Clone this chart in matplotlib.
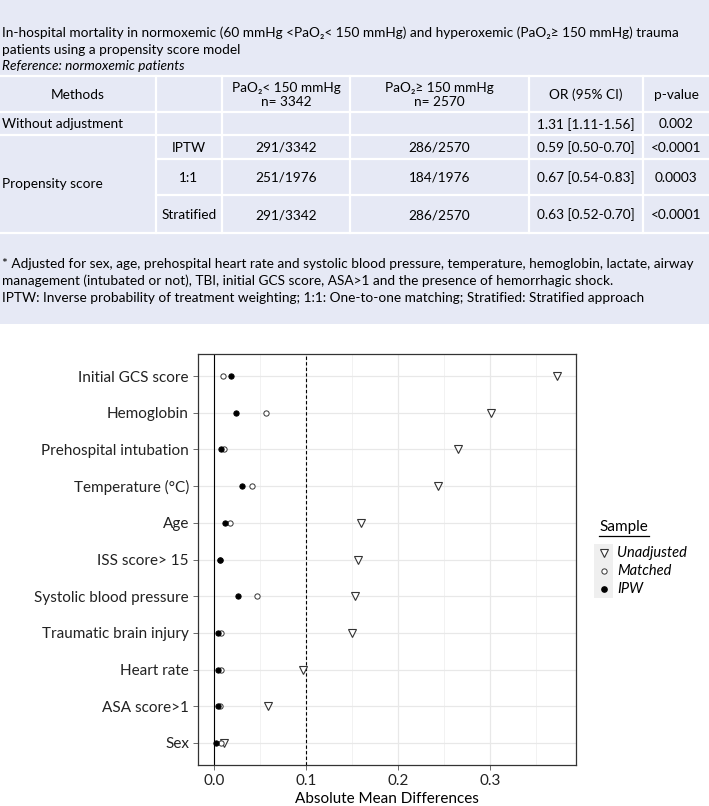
import numpy as np
import matplotlib
matplotlib.use("Agg")
import matplotlib.pyplot as plt
from matplotlib.patches import Rectangle
from matplotlib.lines import Line2D

plt.rcParams['font.family'] = ['Lato', 'DejaVu Sans']

W, H = 709, 806

# ---- table data
title_lines = ["In-hospital mortality in normoxemic (60 mmHg <PaO\u2082< 150 mmHg) and hyperoxemic (PaO\u2082\u2265 150 mmHg) trauma",
               "patients using a propensity score model"]
reference_line = "Reference: normoxemic patients"
col_headers = ["Methods", "", "PaO\u2082< 150 mmHg\nn= 3342", "PaO\u2082\u2265 150 mmHg\nn= 2570", "OR (95% CI)", "p-value"]
row_methods = ["Without adjustment", "IPTW", "1:1", "Stratified"]
row_low = ["", "291/3342", "251/1976", "291/3342"]
row_high = ["", "286/2570", "184/1976", "286/2570"]
row_or = ["1.31 [1.11-1.56]", "0.59 [0.50-0.70]", "0.67 [0.54-0.83]", "0.63 [0.52-0.70]"]
row_p = ["0.002", "<0.0001", "0.0003", "<0.0001"]
footnotes = ["* Adjusted for sex, age, prehospital heart rate and systolic blood pressure, temperature, hemoglobin, lactate, airway",
             "management (intubated or not), TBI, initial GCS score, ASA>1 and the presence of hemorrhagic shock.",
             "IPTW: Inverse probability of treatment weighting; 1:1: One-to-one matching; Stratified: Stratified approach"]

# ---- balance plot data
variables = ['Initial GCS score', 'Hemoglobin', 'Prehospital intubation', 'Temperature (\u00b0C)', 'Age',
             'ISS score> 15', 'Systolic blood pressure', 'Traumatic brain injury', 'Heart rate',
             'ASA score>1', 'Sex']
unadjusted = [0.373, 0.301, 0.265, 0.243, 0.160, 0.157, 0.153, 0.150, 0.097, 0.0585, 0.0107]
matched = [0.010, 0.0566, 0.0107, 0.0415, 0.017, 0.006, 0.047, 0.0073, 0.0073, 0.0063, 0.008]
ipw = [0.019, 0.0244, 0.0078, 0.030, 0.0117, 0.0068, 0.026, 0.004, 0.004, 0.0044, 0.0024]
legend_labels = ['Unadjusted', 'Matched', 'IPW']

fig = plt.figure(figsize=(W / 100, H / 100), dpi=100)

# ================= table block
tab_h = 324
axt = fig.add_axes([0, 1 - tab_h / H, 1, tab_h / H])
axt.set_xlim(0, W)
axt.set_ylim(tab_h, 0)
axt.axis('off')
axt.add_patch(Rectangle((0, 0), W, tab_h, color='#E6E9F5', zorder=0))

fs = 9.8
for i, t in enumerate(title_lines):
    axt.text(2, 33 + i * 16.5, t, fontsize=fs, va='center', ha='left')
axt.text(2, 66, reference_line, fontsize=fs, va='center', ha='left', style='italic')

cols = [0, 156, 222, 350, 529, 643, 709]
rows = [76, 112, 135, 159, 195, 233]
lc = 'white'
lw = 1.6
# horizontal lines
for y in [rows[0], rows[1], rows[2], rows[5]]:
    axt.plot([0, W], [y, y], color=lc, lw=lw)
for y in [rows[3], rows[4]]:
    axt.plot([cols[1], W], [y, y], color=lc, lw=lw)
for x in cols[1:-1]:
    axt.plot([x, x], [rows[0], rows[5]], color=lc, lw=lw)

def cx(i):
    return (cols[i] + cols[i + 1]) / 2

def cy(j):
    return (rows[j] + rows[j + 1]) / 2

for i, h in enumerate(col_headers):
    if h:
        axt.text(cx(i), cy(0) + 1, h, fontsize=fs, ha='center', va='center', linespacing=1.3)

axt.text(2, cy(1) + 1, row_methods[0], fontsize=fs, ha='left', va='center')
axt.text(2, (rows[2] + rows[5]) / 2, "Propensity score", fontsize=fs, ha='left', va='center')
for k in range(4):
    yk = cy(k + 1) + 1
    if k > 0:
        axt.text(cx(1), yk, row_methods[k], fontsize=fs, ha='center', va='center')
    axt.text(cx(2), yk, row_low[k], fontsize=fs, ha='center', va='center')
    axt.text(cx(3), yk, row_high[k], fontsize=fs, ha='center', va='center')
    axt.text(cx(4), yk, row_or[k], fontsize=fs, ha='center', va='center')
    axt.text(cx(5), yk, row_p[k], fontsize=fs, ha='center', va='center')

for i, t in enumerate(footnotes):
    axt.text(2, 264 + i * 17, t, fontsize=fs, va='center', ha='left')

# ================= balance plot
L, R, T, B = 198, 576, 354, 765
ax = fig.add_axes([L / W, 1 - B / H, (R - L) / W, (B - T) / H])
n = len(variables)
ypos = np.arange(n, 0, -1)

ax.set_xlim(-0.0174, 0.3935)
ax.set_ylim(0.4, n + 0.6)
ax.set_xticks([0.0, 0.1, 0.2, 0.3])
ax.set_xticklabels(['0.0', '0.1', '0.2', '0.3'])
ax.set_xticks(np.arange(0.05, 0.4, 0.1), minor=True)
ax.set_yticks(ypos)
ax.set_yticklabels(variables)
ax.grid(True, which='major', color='#E8E8E8', lw=0.9)
ax.grid(True, which='minor', axis='x', color='#F0F0F0', lw=0.6)
ax.set_axisbelow(True)
ax.tick_params(axis='both', which='major', length=3.5, color='#555555', width=0.6,
               labelsize=11, labelcolor='#222222', pad=3)
ax.tick_params(axis='x', which='minor', length=0)
for s in ax.spines.values():
    s.set_color('#333333')
    s.set_linewidth(0.9)

ax.axvline(0, color='black', lw=0.8, zorder=1)
ax.axvline(0.1, color='black', lw=0.8, ls=(0, (3, 2)), zorder=1)

ax.plot(unadjusted, ypos, ls='none', marker='v', ms=6.3, mfc='white', mec='#333333', mew=0.8, zorder=3)
ax.plot(matched, ypos, ls='none', marker='o', ms=3.8, mfc='white', mec='#333333', mew=0.7, zorder=4)
ax.plot(ipw, ypos, ls='none', marker='o', ms=3.8, mfc='black', mec='black', mew=0.7, zorder=5)

ax.set_xlabel('Absolute Mean Differences', fontsize=11, labelpad=3)

# ================= legend
fig.text(599 / W, 1 - 527 / H, 'Sample', fontsize=11, ha='left', va='center')
fig.add_artist(Line2D([599 / W, 649 / W], [1 - 536 / H, 1 - 536 / H], color='black', lw=0.9))
axl = fig.add_axes([594 / W, 1 - 598 / H, 19 / W, 54 / H])
axl.set_xlim(0, 1)
axl.set_ylim(0, 3)
axl.set_facecolor('#EFEFEF')
for s in axl.spines.values():
    s.set_visible(False)
axl.set_xticks([])
axl.set_yticks([])
axl.plot([0.5], [2.5], marker='v', ms=6.3, mfc='white', mec='#333333', mew=0.8)
axl.plot([0.5], [1.5], marker='o', ms=3.8, mfc='white', mec='#333333', mew=0.7)
axl.plot([0.5], [0.5], marker='o', ms=3.8, mfc='black', mec='black')
for k, lab in enumerate(legend_labels):
    fig.text(617 / W, 1 - (553 + 18 * k) / H, lab, fontsize=10.5, style='italic', ha='left', va='center')

fig.savefig('out.png', dpi=100)
